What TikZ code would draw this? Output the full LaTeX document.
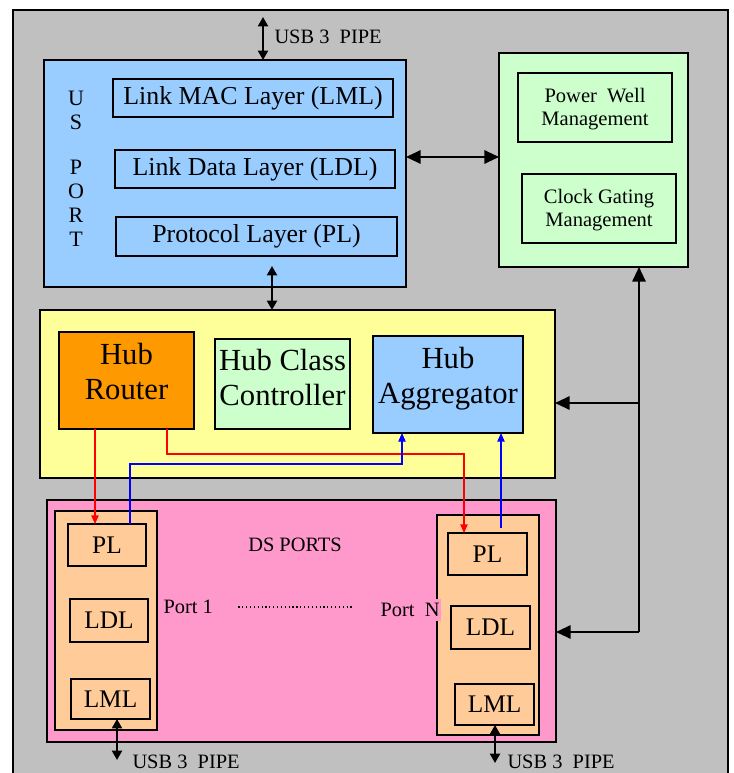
\documentclass[tikz,border=0pt]{standalone}
\usepackage{fontspec}
\setmainfont{Liberation Serif}
\usetikzlibrary{arrows.meta}

\definecolor{bggray}{HTML}{C0C0C0}
\definecolor{usblue}{HTML}{99CCFF}
\definecolor{mgmtgreen}{HTML}{CCFFCC}
\definecolor{hubyellow}{HTML}{FFFF99}
\definecolor{routerorange}{HTML}{FF9900}
\definecolor{dspink}{HTML}{FF99CC}
\definecolor{peach}{HTML}{FFCC99}

\tikzset{every picture/.style={line width=0.75pt}}
\tikzset{
  blk/.style={draw, line width=1.4pt, outer sep=0pt, inner sep=0pt, anchor=north west, align=center},
  lyr/.style={blk, fill=usblue, minimum width=210pt, minimum height=28.5pt, font=\fontsize{19.4}{22}\selectfont},
  mgmt/.style={blk, fill=mgmtgreen, minimum width=115.5pt, minimum height=51.75pt, text depth=0.5pt, font=\fontsize{15.4}{17.3}\selectfont},
  hub/.style={blk, minimum height=72.75pt, text depth=14pt, font=\fontsize{23}{26}\selectfont},
  dslyr/.style={blk, fill=peach, minimum width=58.5pt, minimum height=31.5pt, font=\fontsize{19}{22}\selectfont},
  lbl/.style={inner sep=0.75pt, font=\fontsize{15.3}{17}\selectfont},
  bus/.style={line width=1.5pt, -{Triangle[length=11pt,width=10pt]}},
  dbl/.style={line width=1.5pt, {Triangle[length=11pt,width=10pt]}-{Triangle[length=11pt,width=10pt]}},
  pipe/.style={line width=1.5pt, {Triangle[length=7pt,width=7.5pt]}-{Triangle[length=7pt,width=7.5pt]}},
  redln/.style={red, line width=1pt, -{Triangle[length=6.5pt,width=5.5pt]}},
  blueln/.style={blue, line width=1pt, -{Triangle[length=6.5pt,width=5.5pt]}}
}

\begin{document}
\begin{tikzpicture}[x=0.75pt,y=0.75pt,yscale=-1,xscale=1]
\useasboundingbox (0,0) rectangle (733,773);

%Shape: Rectangle [background]
\draw [fill=bggray, line width=1.4pt] (13,10) rectangle (728,800);

%Shape: US port
\node [blk, fill=usblue, minimum width=271.5pt, minimum height=170.25pt] (usport) at (44,60) {};
\node [lyr] (lml) at (113,79) {Link MAC Layer (LML)};
\node [lyr] (ldl) at (115,150) {Link Data Layer (LDL)};
\node [lyr, minimum width=210.75pt, minimum height=29.25pt] (pl) at (116,217) {Protocol Layer (PL)};
% Text Node
\node [lbl, font=\fontsize{16.5}{18}\selectfont, align=center] (uslbl) at (76,169) {U\\S\\[16pt]P\\O\\R\\T};

%Shape: management
\node [blk, fill=mgmtgreen, minimum width=141.75pt, minimum height=160.5pt] (green) at (499,53) {};
\node [mgmt] (pwr) at (518,73) {Power\ \ Well\\Management};
\node [mgmt] (clk) at (522,174) {Clock Gating\\Management};

%Shape: hub
\node [blk, fill=hubyellow, minimum width=386.25pt, minimum height=126pt] (yellow) at (40,310) {};
\node [hub, fill=routerorange, minimum width=101.25pt] (router) at (59,332) {Hub\\Router};
\node [hub, fill=mgmtgreen, minimum width=101.25pt, minimum height=67.5pt, text depth=10pt] (hcc) at (215,339) {Hub Class\\Controller};
\node [hub, fill=usblue, minimum width=112.5pt] (aggr) at (373,336) {Hub\\Aggregator};

%Shape: DS ports
\node [blk, fill=dspink, minimum width=381.75pt, minimum height=181.5pt] (pink) at (47,500) {};
\node [blk, fill=peach, minimum width=76.5pt, minimum height=164.25pt] (port1) at (55,511) {};
\node [dslyr] (p1pl) at (68,524) {PL};
\node [dslyr, minimum height=32.25pt] (p1ldl) at (70,599) {LDL};
\node [dslyr, minimum width=59.25pt, minimum height=30pt] (p1lml) at (71,679) {LML};
\node [blk, fill=peach, minimum width=76.5pt, minimum height=165pt] (portn) at (437,515) {};
\node [dslyr, minimum width=59.25pt] (pnpl) at (448,533) {PL};
\node [dslyr, minimum width=59.25pt, minimum height=32.25pt] (pnldl) at (451,606) {LDL};
\node [dslyr, minimum width=59.25pt, minimum height=30.75pt] (pnlml) at (455,684) {LML};

% Text Node
\node [lbl] (dslbl) at (295,545) {DS PORTS};
\node [lbl, anchor=west] (p1lbl) at (162,607) {Port 1};
\node [lbl, anchor=east, fill=dspink, inner ysep=3pt] (pnlbl) at (441,610) {Port\ \ N};
\node [lbl, anchor=west] (usbtxt) at (273,37) {USB 3\ \ PIPE};
\node [lbl, anchor=west] (p1usbtxt) at (131,762) {USB 3\ \ PIPE};
\node [lbl, anchor=west] (pnusbtxt) at (506,762) {USB 3\ \ PIPE};

%Straight Lines
\draw [dotted, line width=0.9pt, shorten <=18pt, shorten >=19pt] (p1lbl.east) -- (p1lbl.east -| pnlbl.west);

\coordinate (usbin) at (263,17);
\coordinate (plin) at (272,266);
\coordinate (bus) at (639,632);
\coordinate (hubin) at (639,403);
\coordinate (p1usb) at (117,760);
\coordinate (pnusb) at (495,763);
\coordinate (aggin) at (501,528);

\draw [pipe] (usbin) -- (usport.north -| usbin);
\draw [dbl] (usport.east |- 0,157) -- (green.west |- 0,157);
\draw [pipe] (plin) -- (yellow.north -| plin);
\draw [bus] (bus) -- (green.south -| bus);
\draw [bus] (bus) -- (pink.east |- bus);
\draw [bus] (hubin) -- (yellow.east |- hubin);
\draw [pipe] (p1lml.south -| p1usb) -- (p1usb);
\draw [pipe] (pnlml.south -| pnusb) -- (pnusb);

%Straight Lines [router / aggregator]
\draw [redln] (router.south -| 95,0) -- (p1pl.north -| 95,0);
\draw [redln] (router.south -| 167,0) |- (464,454) -- (pnpl.north -| 464,0);
\draw [blueln] (p1pl.north -| 130,0) |- (402,464) -- (aggr.south -| 402,0);
\draw [blueln] (aggin) -- (aggr.south -| aggin);

\end{tikzpicture}
\end{document}
